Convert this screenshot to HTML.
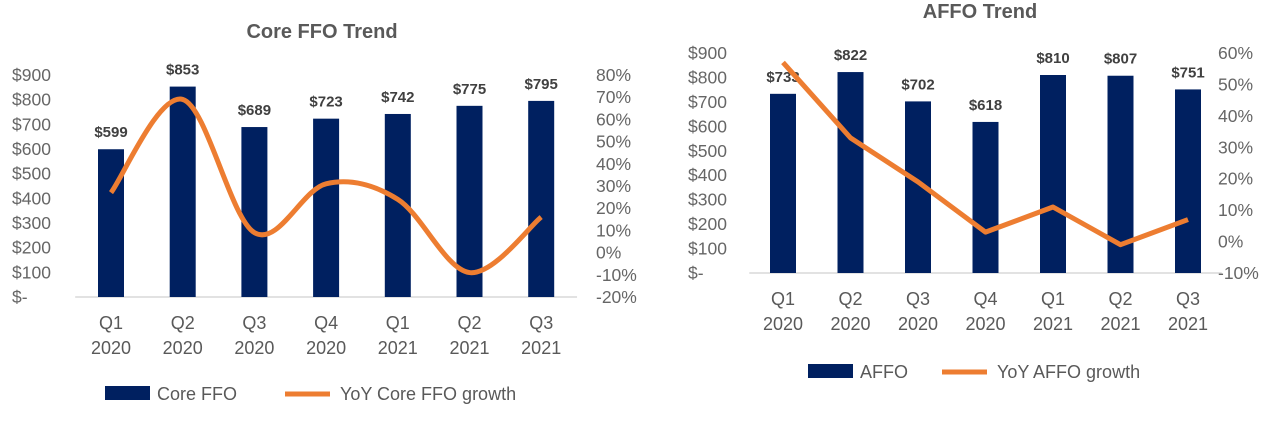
<!DOCTYPE html>
<html><head><meta charset="utf-8"><style>
body{margin:0;background:#fff;}
svg{display:block;font-family:"Liberation Sans",sans-serif;}
</style></head><body>
<svg id="s" width="1280" height="428"></svg>
<script>
const cats1 = ["Q1|2020","Q2|2020","Q3|2020","Q4|2020","Q1|2021","Q2|2021","Q3|2021"];
const coreFFO = [599,853,689,723,742,775,795];
const coreGrowth = [27,69,9,31,24,-9,16];
const affo = [733,822,702,618,810,807,751];
const affoGrowth = [57,33,19,3,11,-1,7];
const dollarTicks1 = [0,100,200,300,400,500,600,700,800,900];
const pctTicks1 = [-20,-10,0,10,20,30,40,50,60,70,80];
const pctTicks2 = [-10,0,10,20,30,40,50,60];

const NS="http://www.w3.org/2000/svg";
const svg=document.getElementById('s');
function el(t,a,txt,p){const e=document.createElementNS(NS,t);for(const k in a)e.setAttribute(k,a[k]);if(txt!=null)e.textContent=txt;(p||svg).appendChild(e);return e;}

function chart(o){
  const g=el('g',{});
  
  
  const yL=v=>o.base-(v/900)*(o.base-o.top);
  const yR=v=>o.base-(v-o.pmin)/(o.pmax-o.pmin)*(o.base-o.top);
  const xC=i=>o.x0+o.step*i;
  const t=el('text',{x:o.tx,y:o.ty,'text-anchor':'middle','font-size':20,'font-weight':'bold',fill:'#595959'},o.title,g);
  
  el('line',{x1:o.x0-o.step/2,x2:o.x0+o.step*6.5,y1:o.base,y2:o.base,stroke:'#d9d9d9','stroke-width':1.5},null,g);
  dollarTicks1.forEach(v=>{const e=el('text',{x:o.lx,y:yL(v)+6,'font-size':17.5,fill:'#666'},v===0?'$-':'$'+v,g);
    });
  o.pticks.forEach(v=>{const e=el('text',{x:o.rx,y:yR(v)+6,'font-size':17.5,fill:'#666'},v+'%',g);
    });
  o.bars.forEach((v,i)=>{
    const r=el('rect',{x:xC(i)-13,y:yL(v),width:26,height:o.base-yL(v),fill:'#002060'},null,g);
    
    const l=el('text',{x:xC(i),y:yL(v)-12,'text-anchor':'middle','font-size':15,'font-weight':'bold',fill:'#404040'},'$'+v,g);
    
    const [q,y]=cats1[i].split('|');
    const c=el('text',{x:xC(i),y:o.base+32,'text-anchor':'middle','font-size':18,fill:'#595959'},q,g);
    
    el('text',{x:xC(i),y:o.base+57,'text-anchor':'middle','font-size':18,fill:'#595959'},y,g);
  });
  const pts=o.line.map((v,i)=>[xC(i),yR(v)]);
  let d='M'+pts[0][0]+','+pts[0][1];
  if(o.smooth){
    for(let i=0;i<pts.length-1;i++){
      const p0=pts[Math.max(i-1,0)],p1=pts[i],p2=pts[i+1],p3=pts[Math.min(i+2,pts.length-1)];
      d+=` C${p1[0]+(p2[0]-p0[0])/6},${p1[1]+(p2[1]-p0[1])/6} ${p2[0]-(p3[0]-p1[0])/6},${p2[1]-(p3[1]-p1[1])/6} ${p2[0]},${p2[1]}`;
    }
  } else pts.slice(1).forEach(p=>d+=' L'+p[0]+','+p[1]);
  const ln=el('path',{d:d,fill:'none',stroke:'#ed7d31','stroke-width':5,'stroke-linejoin':'round'},null,g);
  
  const L=o.leg;
  el('rect',{x:L.x,y:L.y-8,width:45,height:14,fill:'#002060'},null,g);
  const a=el('text',{x:L.x+52,y:L.y+6,'font-size':18,fill:'#595959'},o.l1,g);
  
  el('line',{x1:L.x2,x2:L.x2+45,y1:L.y,y2:L.y,stroke:'#ed7d31','stroke-width':5},null,g);
  const b=el('text',{x:L.x2+55,y:L.y+6,'font-size':18,fill:'#595959'},o.l2,g);
  
}
chart({name:'core-ffo-chart',title:'Core FFO Trend',tx:322,ty:38,base:297,top:75,x0:111,step:71.7,lx:12,rx:596,
  pmin:-20,pmax:80,pticks:pctTicks1,bars:coreFFO,line:coreGrowth,smooth:true,
  leg:{x:105,y:394,x2:285},l1:'Core FFO',l2:'YoY Core FFO growth'});
chart({name:'affo-chart',title:'AFFO Trend',tx:980,ty:18,base:273,top:53,x0:783,step:67.5,lx:688,rx:1218,
  pmin:-10,pmax:60,pticks:pctTicks2,bars:affo,line:affoGrowth,smooth:false,
  leg:{x:808,y:372,x2:942},l1:'AFFO',l2:'YoY AFFO growth'});
</script>
</body></html>
